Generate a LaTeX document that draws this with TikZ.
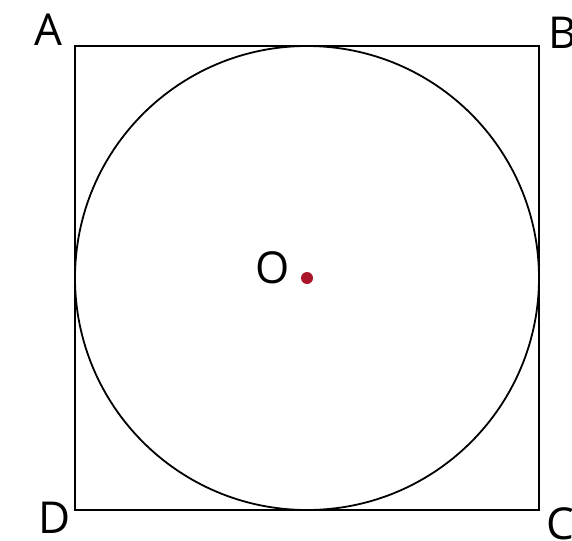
\documentclass[tikz,border=0pt]{standalone}
\usepackage{fontspec}
\setmainfont{Open Sans}
\usetikzlibrary{positioning}
\definecolor{dotred}{RGB}{170,20,40}
\tikzset{lbl/.style={inner sep=0pt,font=\fontsize{44}{44}\selectfont}}

\begin{document}
\begin{tikzpicture}[x=1pt,y=-1pt,line width=1.8pt]
\useasboundingbox (0,0) rectangle (572,540);
\coordinate (A) at (75,46);
\coordinate (B) at (539,46);
\coordinate (C) at (539,510);
\coordinate (D) at (75,510);
\coordinate (O) at (307,278);
\draw (A) -- (B) -- (C) -- (D) -- cycle;
\draw (O) circle (232);
\fill[dotred] (O) circle (6);
\node[lbl] (lA) at (48,30) {A};
\node[lbl] (lB) at (563,33) {B};
\node[lbl] (lC) at (560,524) {C};
\node[lbl] (lD) at (55,518) {D};
\node[lbl] (lO) at (273,268) {O};
\end{tikzpicture}
\end{document}
